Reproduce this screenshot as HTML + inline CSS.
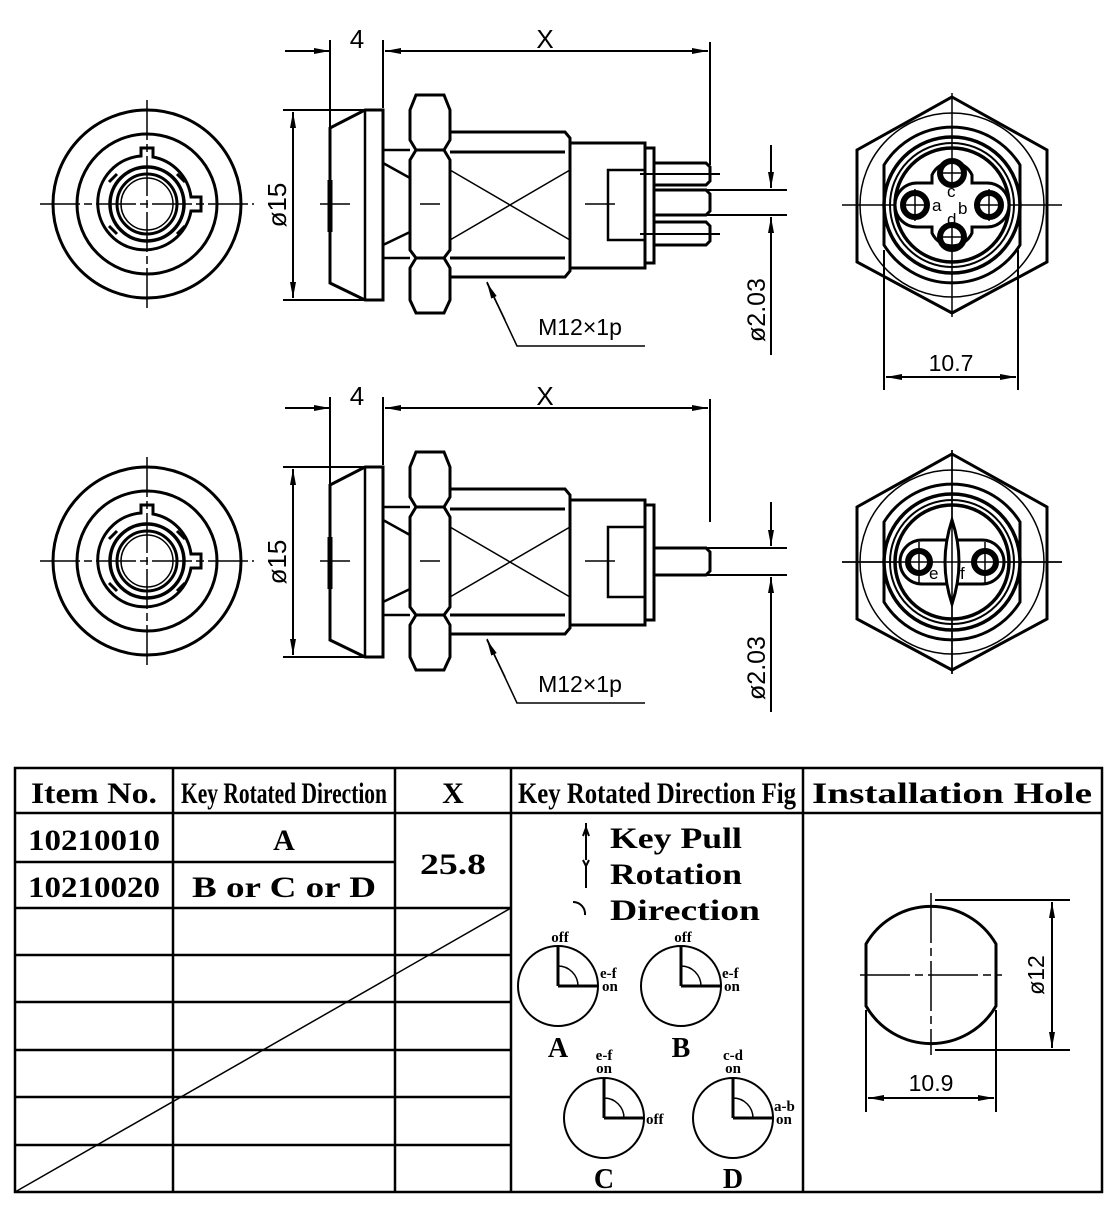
<!DOCTYPE html>
<html><head><meta charset="utf-8"><style>
html,body{margin:0;padding:0;background:#fff}
svg{display:block}
.t{font-family:"Liberation Sans",sans-serif;fill:#000}
.s{font-family:"Liberation Serif",serif;fill:#000;font-weight:bold}
</style></head><body>
<svg width="1118" height="1213" viewBox="0 0 1118 1213" xmlns="http://www.w3.org/2000/svg">
<defs>
<marker id="ar" viewBox="0 0 16 6" refX="16" refY="3" markerWidth="16" markerHeight="6" orient="auto-start-reverse" markerUnits="userSpaceOnUse"><path d="M0,0L16,3L0,6Z" fill="#000"/></marker>
<g id="front">
 <circle cx="0" cy="0" r="94" fill="none" stroke="#000" stroke-width="3"/>
 <circle cx="0" cy="0" r="70" fill="none" stroke="#000" stroke-width="3"/>
 <path d="M-6,-48 L-6,-56 L6,-56 L6,-47 A47,47 0 0 1 44,-7 L54,-7 L54,7 L44,7 A47,47 0 1 1 -6,-48Z" fill="none" stroke="#000" stroke-width="3"/>
 <circle r="37" fill="none" stroke="#000" stroke-width="3.5"/>
 <circle r="30" fill="none" stroke="#000" stroke-width="3"/>
 <circle r="26" fill="none" stroke="#000" stroke-width="1.5"/>
 <path d="M-30,-30 L-38,-22 M30,-30 L38,-22 M-30,30 L-38,22 M30,30 L38,22" stroke="#000" stroke-width="3"/>
 <path d="M-107,0H107M0,-104V104" stroke="#000" stroke-width="1.5" stroke-dasharray="40,4,8,4"/>
</g>
<g id="side">
 <path d="M330,128 L365,110 L383,110 L383,300 L365,300 L330,283Z" fill="none" stroke="#000" stroke-width="3"/>
 <line x1="365" y1="110" x2="365" y2="300" stroke="#000" stroke-width="2.5"/>
 <line x1="330" y1="180" x2="330" y2="232" stroke="#000" stroke-width="5"/>
 <path d="M383,150H410M383,258H410M383,163L410,178M383,245L410,232" fill="none" stroke="#000" stroke-width="2.5"/>
 <path d="M416,95H444L450,110V140L444,150L450,160V250L444,258L450,268V300L444,313H416L410,300V268L416,258L410,250V160L416,150L410,140V110Z" fill="none" stroke="#000" stroke-width="3"/>
 <path d="M416,150H444M416,258H444" stroke="#000" stroke-width="3"/>
 <path d="M450,132H565L570,138V271L565,277H450" fill="none" stroke="#000" stroke-width="3"/>
 <path d="M450,152H565M450,258H565" stroke="#000" stroke-width="3"/>
 <path d="M450,170L570,240M450,240L570,170" stroke="#000" stroke-width="1.5"/>
 <path d="M570,143H645V268H570" fill="none" stroke="#000" stroke-width="3"/>
 <path d="M608,170H645V240H608Z" fill="none" stroke="#000" stroke-width="2.5"/>
 <path d="M645,148H654V263H645" fill="none" stroke="#000" stroke-width="3"/>
 <path d="M320,204H350M420,204H440M585,204H615" stroke="#000" stroke-width="1.5"/>
 <line x1="283" y1="110" x2="365" y2="110" stroke="#000" stroke-width="2"/>
 <line x1="283" y1="300" x2="365" y2="300" stroke="#000" stroke-width="2"/>
 <line x1="293" y1="112" x2="293" y2="298" stroke="#000" stroke-width="2" marker-start="url(#ar)" marker-end="url(#ar)"/>
 <line x1="330" y1="40" x2="330" y2="128" stroke="#000" stroke-width="2"/>
 <line x1="383" y1="40" x2="383" y2="108" stroke="#000" stroke-width="2"/>
 <line x1="285" y1="51" x2="330" y2="51" stroke="#000" stroke-width="2" marker-end="url(#ar)"/>
 <line x1="385" y1="51" x2="708" y2="51" stroke="#000" stroke-width="2" marker-start="url(#ar)" marker-end="url(#ar)"/>
 <line x1="710" y1="42" x2="710" y2="165" stroke="#000" stroke-width="2"/>
 <polyline points="487,282 517,346 645,346" fill="none" stroke="#000" stroke-width="1.5"/>
 <line x1="505" y1="320" x2="487" y2="283" stroke="#000" stroke-width="1.5" marker-end="url(#ar)"/>
</g>
<g id="hexbase">
 <polygon points="0,-108 95,-55 95,57 0,108 -95,57 -95,-55" fill="none" stroke="#000" stroke-width="3"/>
 <circle r="92" fill="none" stroke="#000" stroke-width="1.5"/>
 <path d="M-68,-40 A80,80 0 0 1 68,-40 L68,40 A80,80 0 0 1 -68,40Z" fill="none" stroke="#000" stroke-width="3"/>
 <circle r="68" fill="none" stroke="#000" stroke-width="3.5"/>
 <circle r="62" fill="none" stroke="#000" stroke-width="2"/>
 <circle r="57" fill="none" stroke="#000" stroke-width="3.5"/>
 <path d="M-110,0H110M0,-112V112" stroke="#000" stroke-width="1.5"/>
</g>
</defs>

<use href="#front" transform="translate(147,204)"/>
<use href="#side"/>
<path d="M655,163H706L710,167V181L706,185H655M655,190H706L710,194V211L706,215H655M655,222H706L710,226V241L706,245H655" fill="none" stroke="#000" stroke-width="3"/>
<path d="M640,174H720M640,234H720M705,190H787M705,215H787" stroke="#000" stroke-width="2"/>
<line x1="771" y1="145" x2="771" y2="188" stroke="#000" stroke-width="2" marker-end="url(#ar)"/>
<line x1="771" y1="240" x2="771" y2="217" stroke="#000" stroke-width="2" marker-end="url(#ar)"/>
<line x1="771" y1="240" x2="771" y2="355" stroke="#000" stroke-width="2"/>
<text class="t" x="357" y="48" font-size="26" text-anchor="middle">4</text>
<text class="t" x="545" y="48" font-size="26" text-anchor="middle">X</text>
<text class="t" x="0" y="0" font-size="26" text-anchor="middle" transform="translate(286,205) rotate(-90)">ø15</text>
<text class="t" x="580" y="335" font-size="23" text-anchor="middle">M12×1p</text>
<text class="t" x="0" y="0" font-size="25" text-anchor="middle" transform="translate(765,310) rotate(-90)">ø2.03</text>

<g transform="translate(952,205)">
 <use href="#hexbase"/>
 <path d="M-20,-30 A22,22 0 0 1 20,-30 V-22 H35 A22,22 0 0 1 35,22 H20 V28 A22,22 0 0 1 -20,28 V22 H-35 A22,22 0 0 1 -35,-22 H-20Z" fill="#fff" stroke="#000" stroke-width="3"/>
 <g fill="none" stroke="#000"><circle cx="0" cy="-32" r="12" stroke-width="6"/><circle cx="0" cy="32" r="12" stroke-width="6"/><circle cx="-37" cy="0" r="12" stroke-width="6"/><circle cx="37" cy="0" r="12" stroke-width="6"/></g>
 <path d="M-12,-32H12M0,-44V-20M-12,32H12M0,20V44M-49,0H-25M-37,-16V16M25,0H49M37,-16V16" stroke="#000" stroke-width="1.5"/>
 <text class="t" x="-20" y="6" font-size="17">a</text><text class="t" x="6" y="9" font-size="17">b</text>
 <text class="t" x="-5" y="-8" font-size="17">c</text><text class="t" x="-5" y="20" font-size="17">d</text>
</g>
<line x1="884" y1="250" x2="884" y2="390" stroke="#000" stroke-width="2"/>
<line x1="1018" y1="250" x2="1018" y2="390" stroke="#000" stroke-width="2"/>
<line x1="886" y1="377" x2="1016" y2="377" stroke="#000" stroke-width="2" marker-start="url(#ar)" marker-end="url(#ar)"/>
<text class="t" x="951" y="371" font-size="23" text-anchor="middle">10.7</text>

<use href="#front" transform="translate(147,561)"/>
<use href="#side" transform="translate(0,357)"/>
<path d="M655,548H706L710,552V571L706,575H655" fill="none" stroke="#000" stroke-width="3"/>
<path d="M705,548H787M705,575H787" stroke="#000" stroke-width="2"/>
<line x1="771" y1="502" x2="771" y2="546" stroke="#000" stroke-width="2" marker-end="url(#ar)"/>
<line x1="771" y1="600" x2="771" y2="577" stroke="#000" stroke-width="2" marker-end="url(#ar)"/>
<line x1="771" y1="600" x2="771" y2="712" stroke="#000" stroke-width="2"/>
<text class="t" x="357" y="405" font-size="26" text-anchor="middle">4</text>
<text class="t" x="545" y="405" font-size="26" text-anchor="middle">X</text>
<text class="t" x="0" y="0" font-size="26" text-anchor="middle" transform="translate(286,562) rotate(-90)">ø15</text>
<text class="t" x="580" y="692" font-size="23" text-anchor="middle">M12×1p</text>
<text class="t" x="0" y="0" font-size="25" text-anchor="middle" transform="translate(765,668) rotate(-90)">ø2.03</text>

<g transform="translate(952,562)">
 <use href="#hexbase"/>
 <path d="M-30,-22 H30 A22,22 0 0 1 30,22 H-30 A22,22 0 0 1 -30,-22Z" fill="#fff" stroke="#000" stroke-width="3"/>
 <path d="M0,-42 Q14,0 0,42 Q-14,0 0,-42Z" fill="#fff" stroke="#000" stroke-width="3"/>
 <circle cx="-33" cy="0" r="11" fill="none" stroke="#000" stroke-width="6"/>
 <circle cx="33" cy="0" r="11" fill="none" stroke="#000" stroke-width="6"/>
 <path d="M-45,0H-21M-33,-20V22M21,0H45M33,-20V22M-110,0H110M0,-112V112" stroke="#000" stroke-width="1.5"/>
 <text class="t" x="-23" y="17" font-size="17">e</text><text class="t" x="8" y="17" font-size="17">f</text>
</g>

<g stroke="#000" stroke-width="2.5" fill="none">
 <rect x="15" y="768" width="1087" height="424"/>
 <path d="M15,813H1102M173,768V1192M395,768V1192M511,768V1192M803,768V1192"/>
 <path d="M15,862H395M15,908H511M15,955H511M15,1002H511M15,1050H511M15,1097H511M15,1145H511"/>
 <path d="M15,1192L511,908" stroke-width="1.5"/>
</g>
<text class="s" x="94" y="803" font-size="30" text-anchor="middle" textLength="126" lengthAdjust="spacingAndGlyphs">Item No.</text>
<text class="s" x="284" y="803" font-size="30" text-anchor="middle" textLength="206" lengthAdjust="spacingAndGlyphs">Key Rotated Direction</text>
<text class="s" x="453" y="803" font-size="30" text-anchor="middle">X</text>
<text class="s" x="657" y="803" font-size="30" text-anchor="middle" textLength="278" lengthAdjust="spacingAndGlyphs">Key Rotated Direction Fig</text>
<text class="s" x="952" y="803" font-size="30" text-anchor="middle" textLength="280" lengthAdjust="spacingAndGlyphs">Installation Hole</text>
<text class="s" x="94" y="850" font-size="30" text-anchor="middle" textLength="132" lengthAdjust="spacingAndGlyphs">10210010</text>
<text class="s" x="94" y="897" font-size="30" text-anchor="middle" textLength="132" lengthAdjust="spacingAndGlyphs">10210020</text>
<text class="s" x="284" y="850" font-size="30" text-anchor="middle">A</text>
<text class="s" x="284" y="897" font-size="30" text-anchor="middle" textLength="184" lengthAdjust="spacingAndGlyphs">B or C or D</text>
<text class="s" x="453" y="874" font-size="30" text-anchor="middle" textLength="66" lengthAdjust="spacingAndGlyphs">25.8</text>
<text class="s" x="610" y="848" font-size="30" textLength="132" lengthAdjust="spacingAndGlyphs">Key Pull</text>
<text class="s" x="610" y="884" font-size="30" textLength="132" lengthAdjust="spacingAndGlyphs">Rotation</text>
<text class="s" x="610" y="920" font-size="30" textLength="150" lengthAdjust="spacingAndGlyphs">Direction</text>
<g stroke="#000" stroke-width="2" fill="none">
 <path d="M586,823V860"/><path d="M583,836L586,828L589,836M583,860L586,866L589,860M586,866V888"/>
 <path d="M573,902 A12,12 0 0 1 585,915"/>
</g>
<g fill="none" stroke="#000" stroke-width="2">
 <circle cx="558" cy="986" r="40"/><circle cx="681" cy="986" r="40"/>
 <circle cx="604" cy="1118" r="40"/><circle cx="733" cy="1118" r="40"/>
 <path d="M558,986V946M558,986H598M681,986V946M681,986H721M604,1118V1078M604,1118H644M733,1118V1078M733,1118H773" stroke-width="3"/>
 <path d="M558,966A20,20 0 0 1 578,986M681,966A20,20 0 0 1 701,986M604,1098A20,20 0 0 1 624,1118M733,1098A20,20 0 0 1 753,1118" stroke-width="1.5"/>
</g>
<text class="s" x="560" y="942" text-anchor="middle" font-size="15">off</text>
<text class="s" x="683" y="942" text-anchor="middle" font-size="15">off</text>
<text class="s" x="600" y="978" font-size="15">e-f</text><text class="s" x="602" y="991" font-size="15">on</text>
<text class="s" x="722" y="978" font-size="15">e-f</text><text class="s" x="724" y="991" font-size="15">on</text>
<text class="s" x="604" y="1060" text-anchor="middle" font-size="15">e-f</text><text class="s" x="604" y="1073" text-anchor="middle" font-size="15">on</text>
<text class="s" x="646" y="1124" font-size="15">off</text>
<text class="s" x="733" y="1060" text-anchor="middle" font-size="15">c-d</text><text class="s" x="733" y="1073" text-anchor="middle" font-size="15">on</text>
<text class="s" x="774" y="1111" font-size="15">a-b</text><text class="s" x="776" y="1124" font-size="15">on</text>
<text class="s" x="558" y="1057" text-anchor="middle" font-size="28">A</text>
<text class="s" x="681" y="1057" text-anchor="middle" font-size="28">B</text>
<text class="s" x="604" y="1188" text-anchor="middle" font-size="28">C</text>
<text class="s" x="733" y="1188" text-anchor="middle" font-size="28">D</text>
<path d="M866,944 A75,75 0 0 1 996,944 V1006 A75,75 0 0 1 866,1006Z" fill="none" stroke="#000" stroke-width="3"/>
<path d="M860,975H1002M931,893V1055" stroke="#000" stroke-width="1.5" stroke-dasharray="50,5,8,5"/>
<path d="M935,900H1070M935,1050H1070M866,1010V1112M996,1010V1112" stroke="#000" stroke-width="2"/>
<line x1="1052" y1="902" x2="1052" y2="1048" stroke="#000" stroke-width="2" marker-start="url(#ar)" marker-end="url(#ar)"/>
<line x1="868" y1="1098" x2="994" y2="1098" stroke="#000" stroke-width="2" marker-start="url(#ar)" marker-end="url(#ar)"/>
<text class="t" x="931" y="1091" font-size="23" text-anchor="middle">10.9</text>
<text class="t" x="0" y="0" font-size="23" text-anchor="middle" transform="translate(1044,975) rotate(-90)">ø12</text>
</svg>
</body></html>
